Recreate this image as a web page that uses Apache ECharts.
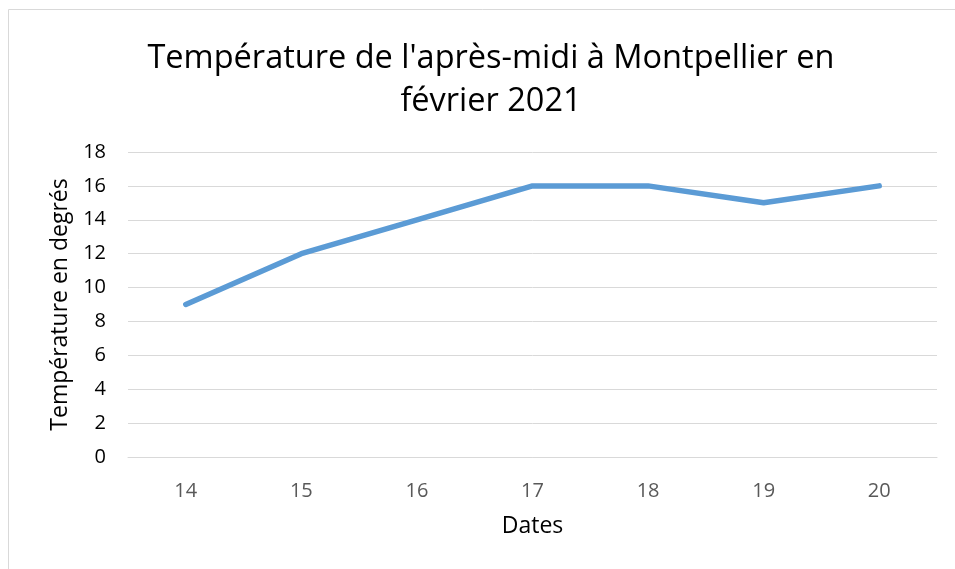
<!DOCTYPE html>
<html>
<head>
<meta charset="utf-8">
<script src="https://cdn.jsdelivr.net/npm/echarts@6/dist/echarts.min.js"></script>
<style>
  html, body { margin: 0; padding: 0; background: #fff; }
  #chart { width: 955px; height: 569px; }
</style>
</head>
<body>
<div id="chart"></div>
<script>
const dates = ['14', '15', '16', '17', '18', '19', '20'];
const temperatures = [9, 12, 14, 16, 16, 15, 16];
const yTicks = { min: 0, max: 18, interval: 2 };

const chart = echarts.init(document.getElementById('chart'));
const font = '"Open Sans", "Noto Sans", sans-serif';

chart.setOption({
  animation: false,
  graphic: [
    {
      type: 'rect',
      shape: { x: 8.5, y: 9.5, width: 1000, height: 1000 },
      style: { fill: 'none', stroke: '#d9d9d9', lineWidth: 1 }
    }
  ],
  title: {
    text: "Température de l'après-midi à Montpellier en\nfévrier 2021",
    left: 486,
    top: 32,
    textAlign: 'center',
    textStyle: {
      fontFamily: font,
      fontSize: 32.5,
      fontWeight: 'normal',
      color: '#000',
      lineHeight: 43
    }
  },
  grid: {
    left: 128,
    right: 18,
    top: 152,
    bottom: 112
  },
  xAxis: {
    type: 'category',
    data: dates,
    boundaryGap: true,
    name: 'Dates',
    nameLocation: 'middle',
    nameGap: 58,
    nameTextStyle: { fontFamily: font, fontSize: 23, color: '#000' },
    axisLine: { show: true, lineStyle: { color: '#d9d9d9', width: 1 } },
    axisTick: { show: false },
    axisLabel: { fontFamily: font, fontSize: 20, color: '#595959', margin: 24 }
  },
  yAxis: {
    type: 'value',
    min: yTicks.min,
    max: yTicks.max,
    interval: yTicks.interval,
    name: 'Température en degrés',
    nameLocation: 'middle',
    nameGap: 52,
    nameTextStyle: { fontFamily: font, fontSize: 23, color: '#000' },
    axisLine: { show: false },
    axisTick: { show: false },
    axisLabel: { fontFamily: font, fontSize: 20, color: '#000', margin: 22 },
    splitLine: { lineStyle: { color: '#d9d9d9', width: 1 } }
  },
  series: [
    {
      type: 'line',
      data: temperatures,
      showSymbol: false,
      lineStyle: { color: '#5b9bd5', width: 5.5, cap: 'round', join: 'round' },
      itemStyle: { color: '#5b9bd5' }
    }
  ]
});
</script>
</body>
</html>
